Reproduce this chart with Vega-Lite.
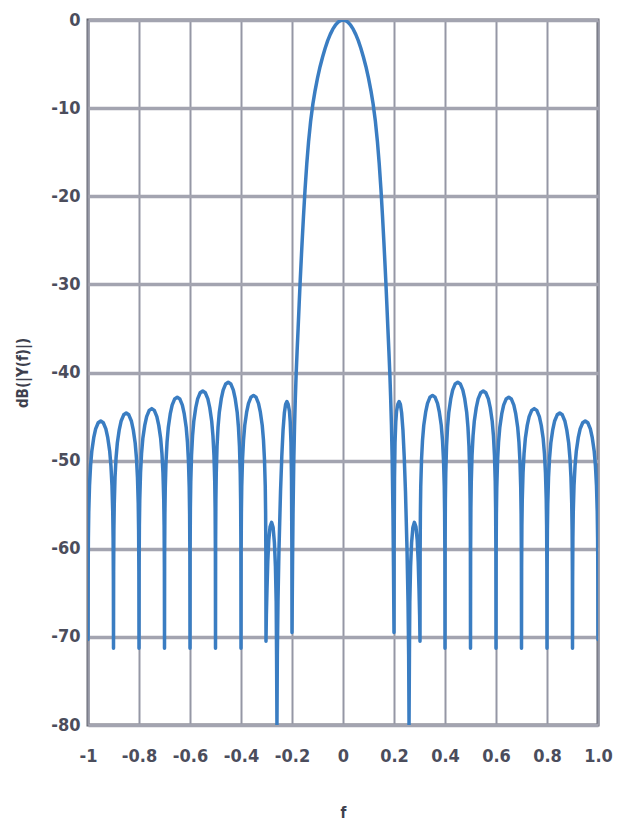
{
  "$schema": "https://vega.github.io/schema/vega-lite/v6.json",
  "width": 510,
  "height": 705,
  "autosize": "none",
  "padding": {"left": 88, "top": 20, "right": 30, "bottom": 105},
  "background": "white",
  "config": {
    "view": {"stroke": "#62646f", "strokeWidth": 3},
    "axis": {
      "labelFont": "DejaVu Sans Condensed",
      "titleFont": "DejaVu Sans Condensed",
      "labelColor": "#4b4d5c",
      "titleColor": "#3d3f4d",
      "labelFontSize": 18,
      "titleFontSize": 15,
      "labelFontWeight": "bold",
      "titleFontWeight": "bold",
      "ticks": false,
      "domain": false
    }
  },
  "data": {"values": [
    {"f":0,"db":0},
    {"f":0.01,"db":-0.07},{"f":0.02,"db":-0.26},{"f":0.03,"db":-0.59},{"f":0.04,"db":-1.04},{"f":0.05,"db":-1.63},{"f":0.06,"db":-2.34},{"f":0.07,"db":-3.2},{"f":0.08,"db":-4.2},{"f":0.09,"db":-5.3},{"f":0.1,"db":-6.6},{"f":0.11,"db":-8.1},{"f":0.118,"db":-9.5},{"f":0.127,"db":-11.5},{"f":0.135,"db":-13.8},{"f":0.142,"db":-16.3},{"f":0.149,"db":-19.3},{"f":0.155,"db":-22.3},{"f":0.16,"db":-25.0},{"f":0.164,"db":-27.3},{"f":0.168,"db":-29.7},{"f":0.172,"db":-32.3},{"f":0.176,"db":-35},{"f":0.18,"db":-37.6},{"f":0.184,"db":-40.4},{"f":0.187,"db":-43},{"f":0.19,"db":-46},{"f":0.193,"db":-50},{"f":0.196,"db":-56},{"f":0.198,"db":-62},{"f":0.2,"db":-69.5},
    {"f":0.2005,"db":-60},{"f":0.202,"db":-52},{"f":0.204,"db":-48},{"f":0.207,"db":-45.6},{"f":0.21,"db":-44.4},{"f":0.215,"db":-43.6},{"f":0.22,"db":-43.3},{"f":0.225,"db":-43.6},{"f":0.23,"db":-44.6},{"f":0.235,"db":-46.5},{"f":0.24,"db":-49.5},{"f":0.245,"db":-53.5},{"f":0.251,"db":-60},{"f":0.255,"db":-66},{"f":0.2575,"db":-72},{"f":0.259,"db":-80},
    {"f":0.2605,"db":-72},{"f":0.262,"db":-66},{"f":0.265,"db":-62},{"f":0.269,"db":-59.3},{"f":0.274,"db":-57.6},{"f":0.28,"db":-57},{"f":0.286,"db":-57.5},{"f":0.291,"db":-59},{"f":0.295,"db":-61.5},{"f":0.298,"db":-64.5},{"f":0.3005,"db":-67.5},{"f":0.302,"db":-70.5},
    {"f":0.3025,"db":-60.6},{"f":0.3035,"db":-55.9},{"f":0.3049,"db":-52.9},{"f":0.3079,"db":-49.9},{"f":0.3118,"db":-47.7},{"f":0.3167,"db":-46.0},{"f":0.3241,"db":-44.5},{"f":0.3314,"db":-43.5},{"f":0.3412,"db":-42.8},{"f":0.351,"db":-42.6},{"f":0.3608,"db":-42.8},{"f":0.3706,"db":-43.5},{"f":0.3779,"db":-44.5},{"f":0.3853,"db":-46.0},{"f":0.3902,"db":-47.7},{"f":0.3941,"db":-49.9},{"f":0.3971,"db":-52.9},{"f":0.3985,"db":-55.9},{"f":0.3995,"db":-60.6},{"f":0.4,"db":-71.3},
    {"f":0.4005,"db":-59.1},{"f":0.4015,"db":-54.4},{"f":0.403,"db":-51.4},{"f":0.406,"db":-48.4},{"f":0.41,"db":-46.2},{"f":0.415,"db":-44.5},{"f":0.4225,"db":-43.0},{"f":0.43,"db":-42.0},{"f":0.44,"db":-41.3},{"f":0.45,"db":-41.1},{"f":0.46,"db":-41.3},{"f":0.47,"db":-42.0},{"f":0.4775,"db":-43.0},{"f":0.485,"db":-44.5},{"f":0.49,"db":-46.2},{"f":0.494,"db":-48.4},{"f":0.497,"db":-51.4},{"f":0.4985,"db":-54.4},{"f":0.4995,"db":-59.1},{"f":0.5,"db":-71.3},
    {"f":0.5005,"db":-60.1},{"f":0.5015,"db":-55.4},{"f":0.503,"db":-52.4},{"f":0.506,"db":-49.4},{"f":0.51,"db":-47.2},{"f":0.515,"db":-45.5},{"f":0.5225,"db":-44.0},{"f":0.53,"db":-43.0},{"f":0.54,"db":-42.3},{"f":0.55,"db":-42.1},{"f":0.56,"db":-42.3},{"f":0.57,"db":-43.0},{"f":0.5775,"db":-44.0},{"f":0.585,"db":-45.5},{"f":0.59,"db":-47.2},{"f":0.594,"db":-49.4},{"f":0.597,"db":-52.4},{"f":0.5985,"db":-55.4},{"f":0.5995,"db":-60.1},{"f":0.6,"db":-71.3},
    {"f":0.6005,"db":-60.8},{"f":0.6015,"db":-56.1},{"f":0.603,"db":-53.1},{"f":0.606,"db":-50.1},{"f":0.61,"db":-47.9},{"f":0.615,"db":-46.2},{"f":0.6225,"db":-44.7},{"f":0.63,"db":-43.7},{"f":0.64,"db":-43.0},{"f":0.65,"db":-42.8},{"f":0.66,"db":-43.0},{"f":0.67,"db":-43.7},{"f":0.6775,"db":-44.7},{"f":0.685,"db":-46.2},{"f":0.69,"db":-47.9},{"f":0.694,"db":-50.1},{"f":0.697,"db":-53.1},{"f":0.6985,"db":-56.1},{"f":0.6995,"db":-60.8},{"f":0.7,"db":-71.3},
    {"f":0.7005,"db":-62.1},{"f":0.7015,"db":-57.4},{"f":0.703,"db":-54.4},{"f":0.706,"db":-51.4},{"f":0.71,"db":-49.2},{"f":0.715,"db":-47.5},{"f":0.7225,"db":-46.0},{"f":0.73,"db":-45.0},{"f":0.74,"db":-44.3},{"f":0.75,"db":-44.1},{"f":0.76,"db":-44.3},{"f":0.77,"db":-45.0},{"f":0.7775,"db":-46.0},{"f":0.785,"db":-47.5},{"f":0.79,"db":-49.2},{"f":0.794,"db":-51.4},{"f":0.797,"db":-54.4},{"f":0.7985,"db":-57.4},{"f":0.7995,"db":-62.1},{"f":0.8,"db":-71.3},
    {"f":0.8005,"db":-62.6},{"f":0.8015,"db":-57.9},{"f":0.803,"db":-54.9},{"f":0.806,"db":-51.9},{"f":0.81,"db":-49.7},{"f":0.815,"db":-48.0},{"f":0.8225,"db":-46.5},{"f":0.83,"db":-45.5},{"f":0.84,"db":-44.8},{"f":0.85,"db":-44.6},{"f":0.86,"db":-44.8},{"f":0.87,"db":-45.5},{"f":0.8775,"db":-46.5},{"f":0.885,"db":-48.0},{"f":0.89,"db":-49.7},{"f":0.894,"db":-51.9},{"f":0.897,"db":-54.9},{"f":0.8985,"db":-57.9},{"f":0.8995,"db":-62.6},{"f":0.9,"db":-71.3},
    {"f":0.9005,"db":-63.5},{"f":0.9015,"db":-58.8},{"f":0.903,"db":-55.8},{"f":0.906,"db":-52.8},{"f":0.91,"db":-50.6},{"f":0.915,"db":-48.9},{"f":0.9225,"db":-47.4},{"f":0.93,"db":-46.4},{"f":0.94,"db":-45.7},{"f":0.95,"db":-45.5},{"f":0.96,"db":-45.7},{"f":0.97,"db":-46.4},{"f":0.9775,"db":-47.4},{"f":0.985,"db":-48.9},{"f":0.99,"db":-50.6},{"f":0.994,"db":-52.8},{"f":0.997,"db":-55.8},{"f":0.9985,"db":-58.8},{"f":0.9995,"db":-63.5},{"f":1.0,"db":-70.3},

    {"f":-0.01,"db":-0.07},{"f":-0.02,"db":-0.26},{"f":-0.03,"db":-0.59},{"f":-0.04,"db":-1.04},{"f":-0.05,"db":-1.63},{"f":-0.06,"db":-2.34},{"f":-0.07,"db":-3.2},{"f":-0.08,"db":-4.2},{"f":-0.09,"db":-5.3},{"f":-0.1,"db":-6.6},{"f":-0.11,"db":-8.1},{"f":-0.118,"db":-9.5},{"f":-0.127,"db":-11.5},{"f":-0.135,"db":-13.8},{"f":-0.142,"db":-16.3},{"f":-0.149,"db":-19.3},{"f":-0.155,"db":-22.3},{"f":-0.16,"db":-25.0},{"f":-0.164,"db":-27.3},{"f":-0.168,"db":-29.7},{"f":-0.172,"db":-32.3},{"f":-0.176,"db":-35},{"f":-0.18,"db":-37.6},{"f":-0.184,"db":-40.4},{"f":-0.187,"db":-43},{"f":-0.19,"db":-46},{"f":-0.193,"db":-50},{"f":-0.196,"db":-56},{"f":-0.198,"db":-62},{"f":-0.2,"db":-69.5},
    {"f":-0.2005,"db":-60},{"f":-0.202,"db":-52},{"f":-0.204,"db":-48},{"f":-0.207,"db":-45.6},{"f":-0.21,"db":-44.4},{"f":-0.215,"db":-43.6},{"f":-0.22,"db":-43.3},{"f":-0.225,"db":-43.6},{"f":-0.23,"db":-44.6},{"f":-0.235,"db":-46.5},{"f":-0.24,"db":-49.5},{"f":-0.245,"db":-53.5},{"f":-0.251,"db":-60},{"f":-0.255,"db":-66},{"f":-0.2575,"db":-72},{"f":-0.259,"db":-80},
    {"f":-0.2605,"db":-72},{"f":-0.262,"db":-66},{"f":-0.265,"db":-62},{"f":-0.269,"db":-59.3},{"f":-0.274,"db":-57.6},{"f":-0.28,"db":-57},{"f":-0.286,"db":-57.5},{"f":-0.291,"db":-59},{"f":-0.295,"db":-61.5},{"f":-0.298,"db":-64.5},{"f":-0.3005,"db":-67.5},{"f":-0.302,"db":-70.5},
    {"f":-0.3025,"db":-60.6},{"f":-0.3035,"db":-55.9},{"f":-0.3049,"db":-52.9},{"f":-0.3079,"db":-49.9},{"f":-0.3118,"db":-47.7},{"f":-0.3167,"db":-46.0},{"f":-0.3241,"db":-44.5},{"f":-0.3314,"db":-43.5},{"f":-0.3412,"db":-42.8},{"f":-0.351,"db":-42.6},{"f":-0.3608,"db":-42.8},{"f":-0.3706,"db":-43.5},{"f":-0.3779,"db":-44.5},{"f":-0.3853,"db":-46.0},{"f":-0.3902,"db":-47.7},{"f":-0.3941,"db":-49.9},{"f":-0.3971,"db":-52.9},{"f":-0.3985,"db":-55.9},{"f":-0.3995,"db":-60.6},{"f":-0.4,"db":-71.3},
    {"f":-0.4005,"db":-59.1},{"f":-0.4015,"db":-54.4},{"f":-0.403,"db":-51.4},{"f":-0.406,"db":-48.4},{"f":-0.41,"db":-46.2},{"f":-0.415,"db":-44.5},{"f":-0.4225,"db":-43.0},{"f":-0.43,"db":-42.0},{"f":-0.44,"db":-41.3},{"f":-0.45,"db":-41.1},{"f":-0.46,"db":-41.3},{"f":-0.47,"db":-42.0},{"f":-0.4775,"db":-43.0},{"f":-0.485,"db":-44.5},{"f":-0.49,"db":-46.2},{"f":-0.494,"db":-48.4},{"f":-0.497,"db":-51.4},{"f":-0.4985,"db":-54.4},{"f":-0.4995,"db":-59.1},{"f":-0.5,"db":-71.3},
    {"f":-0.5005,"db":-60.1},{"f":-0.5015,"db":-55.4},{"f":-0.503,"db":-52.4},{"f":-0.506,"db":-49.4},{"f":-0.51,"db":-47.2},{"f":-0.515,"db":-45.5},{"f":-0.5225,"db":-44.0},{"f":-0.53,"db":-43.0},{"f":-0.54,"db":-42.3},{"f":-0.55,"db":-42.1},{"f":-0.56,"db":-42.3},{"f":-0.57,"db":-43.0},{"f":-0.5775,"db":-44.0},{"f":-0.585,"db":-45.5},{"f":-0.59,"db":-47.2},{"f":-0.594,"db":-49.4},{"f":-0.597,"db":-52.4},{"f":-0.5985,"db":-55.4},{"f":-0.5995,"db":-60.1},{"f":-0.6,"db":-71.3},
    {"f":-0.6005,"db":-60.8},{"f":-0.6015,"db":-56.1},{"f":-0.603,"db":-53.1},{"f":-0.606,"db":-50.1},{"f":-0.61,"db":-47.9},{"f":-0.615,"db":-46.2},{"f":-0.6225,"db":-44.7},{"f":-0.63,"db":-43.7},{"f":-0.64,"db":-43.0},{"f":-0.65,"db":-42.8},{"f":-0.66,"db":-43.0},{"f":-0.67,"db":-43.7},{"f":-0.6775,"db":-44.7},{"f":-0.685,"db":-46.2},{"f":-0.69,"db":-47.9},{"f":-0.694,"db":-50.1},{"f":-0.697,"db":-53.1},{"f":-0.6985,"db":-56.1},{"f":-0.6995,"db":-60.8},{"f":-0.7,"db":-71.3},
    {"f":-0.7005,"db":-62.1},{"f":-0.7015,"db":-57.4},{"f":-0.703,"db":-54.4},{"f":-0.706,"db":-51.4},{"f":-0.71,"db":-49.2},{"f":-0.715,"db":-47.5},{"f":-0.7225,"db":-46.0},{"f":-0.73,"db":-45.0},{"f":-0.74,"db":-44.3},{"f":-0.75,"db":-44.1},{"f":-0.76,"db":-44.3},{"f":-0.77,"db":-45.0},{"f":-0.7775,"db":-46.0},{"f":-0.785,"db":-47.5},{"f":-0.79,"db":-49.2},{"f":-0.794,"db":-51.4},{"f":-0.797,"db":-54.4},{"f":-0.7985,"db":-57.4},{"f":-0.7995,"db":-62.1},{"f":-0.8,"db":-71.3},
    {"f":-0.8005,"db":-62.6},{"f":-0.8015,"db":-57.9},{"f":-0.803,"db":-54.9},{"f":-0.806,"db":-51.9},{"f":-0.81,"db":-49.7},{"f":-0.815,"db":-48.0},{"f":-0.8225,"db":-46.5},{"f":-0.83,"db":-45.5},{"f":-0.84,"db":-44.8},{"f":-0.85,"db":-44.6},{"f":-0.86,"db":-44.8},{"f":-0.87,"db":-45.5},{"f":-0.8775,"db":-46.5},{"f":-0.885,"db":-48.0},{"f":-0.89,"db":-49.7},{"f":-0.894,"db":-51.9},{"f":-0.897,"db":-54.9},{"f":-0.8985,"db":-57.9},{"f":-0.8995,"db":-62.6},{"f":-0.9,"db":-71.3},
    {"f":-0.9005,"db":-63.5},{"f":-0.9015,"db":-58.8},{"f":-0.903,"db":-55.8},{"f":-0.906,"db":-52.8},{"f":-0.91,"db":-50.6},{"f":-0.915,"db":-48.9},{"f":-0.9225,"db":-47.4},{"f":-0.93,"db":-46.4},{"f":-0.94,"db":-45.7},{"f":-0.95,"db":-45.5},{"f":-0.96,"db":-45.7},{"f":-0.97,"db":-46.4},{"f":-0.9775,"db":-47.4},{"f":-0.985,"db":-48.9},{"f":-0.99,"db":-50.6},{"f":-0.994,"db":-52.8},{"f":-0.997,"db":-55.8},{"f":-0.9985,"db":-58.8},{"f":-0.9995,"db":-63.5},{"f":-1.0,"db":-70.3}
  ]},
  "mark": {"type": "line", "color": "#3a7dc2", "strokeWidth": 3.5, "strokeCap": "round", "strokeJoin": "round", "clip": true},
  "encoding": {
    "x": {
      "field": "f", "type": "quantitative",
      "scale": {"domain": [-1, 1], "nice": false, "zero": false},
      "axis": {
        "values": [-1, -0.8, -0.6, -0.4, -0.2, 0, 0.2, 0.4, 0.6, 0.8, 1],
        "labelExpr": "datum.value === 1 ? '1.0' : replace(format(datum.value, '~g'), '−', '-')",
        "title": "f",
        "labelPadding": 22,
        "titlePadding": 40,
        "gridColor": "#9597a5",
        "gridWidth": 2,
        "gridOpacity": 1,
        "labelFlush": false
      }
    },
    "y": {
      "field": "db", "type": "quantitative",
      "scale": {"domain": [-80, 0], "nice": false, "zero": false},
      "axis": {
        "values": [-80, -70, -60, -50, -40, -30, -20, -10, 0],
        "labelExpr": "replace(format(datum.value, '~g'), '−', '-')",
        "title": "dB(|Y(f)|)",
        "labelPadding": 8,
        "titlePadding": 20,
        "gridColor": "#a3a4b0",
        "gridWidth": 3.5,
        "gridOpacity": 1,
        "labelFlush": false
      }
    }
  }
}
